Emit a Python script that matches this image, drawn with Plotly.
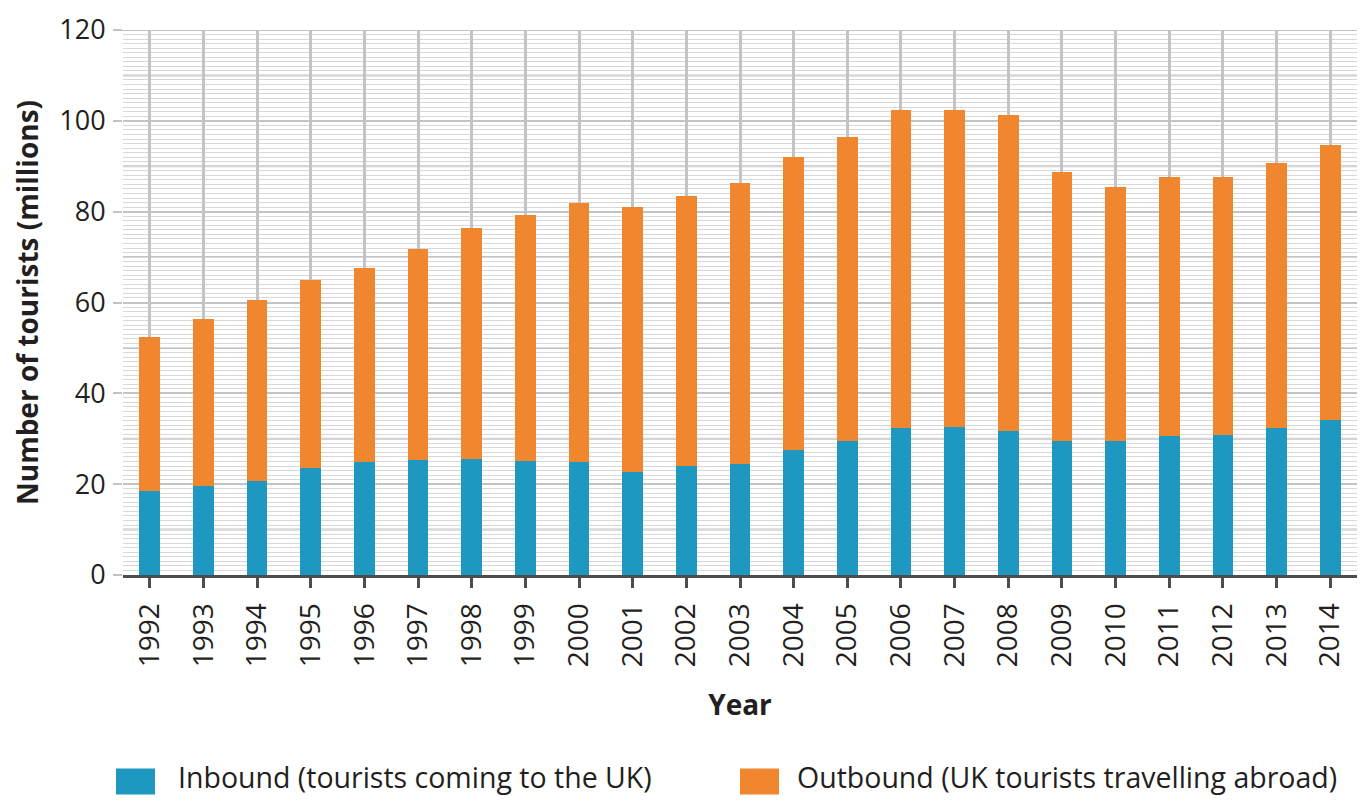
import plotly.graph_objects as go

years = [str(y) for y in range(1992, 2015)]
inbound = [18.4, 19.5, 20.8, 23.5, 24.8, 25.4, 25.6, 25.1, 24.8, 22.7, 23.9, 24.5,
           27.5, 29.6, 32.3, 32.6, 31.7, 29.5, 29.5, 30.6, 30.8, 32.3, 34.1]
total = [52.5, 56.4, 60.5, 64.9, 67.5, 71.7, 76.4, 79.2, 82.0, 81.1, 83.5, 86.3,
         92.0, 96.4, 102.3, 102.3, 101.2, 88.7, 85.5, 87.7, 87.7, 90.7, 94.6]
outbound = [round(t - i, 1) for t, i in zip(total, inbound)]

y_ticks = [0, 20, 40, 60, 80, 100, 120]
mid_lines = [10, 30, 50, 70, 90, 110, 120]

series_names = ["Inbound (tourists coming to the UK)", "Outbound (UK tourists travelling abroad)"]
BLUE = "#1E98C1"
ORANGE = "#F0862E"
FONT = "Open Sans"
TXT = "#231F20"
GRID = "#C2C3C7"

# page has an 8px body margin; size the figure to fit the window
OFF = 8
W, H = 1367 - 2 * OFF, 805 - 2 * OFF
L, R, T, B = 123 - OFF, 1357 - OFF, 26 - OFF, 575 - OFF
PW, PH = R - L, B - T

fig = go.Figure()
fig.add_trace(go.Bar(x=years, y=inbound, name=series_names[0], marker=dict(color=BLUE, line=dict(width=0))))
fig.add_trace(go.Bar(x=years, y=outbound, name=series_names[1], marker=dict(color=ORANGE, line=dict(width=0))))

shapes = []
for v in mid_lines:
    shapes.append(dict(type="line", xref="paper", yref="y", x0=0, x1=1, y0=v, y1=v,
                       line=dict(color=GRID, width=2), layer="below"))
# extension of the top gridline to the left, like the other labelled lines
shapes.append(dict(type="line", xref="paper", yref="y", x0=-9 / PW, x1=0, y0=120, y1=120,
                   line=dict(color=GRID, width=2), layer="below"))


def px_x(p):
    return (p - OFF - L) / PW


def px_y(p):
    return (B - (p - OFF)) / PH


legend_items = [(116, 155, 176, BLUE, series_names[0]), (740, 779, 795, ORANGE, series_names[1])]
annotations = []
for x0, x1, tx, col, name in legend_items:
    shapes.append(dict(type="rect", xref="paper", yref="paper", x0=px_x(x0), x1=px_x(x1),
                       y0=px_y(796), y1=px_y(770), fillcolor=col, line=dict(width=0)))
    annotations.append(dict(text=name, xref="paper", yref="paper", x=px_x(tx), y=px_y(H + OFF + 3),
                            xanchor="left", yanchor="bottom", showarrow=False,
                            font=dict(family=FONT, size=28.5, color=TXT)))

fig.update_layout(
    barmode="stack",
    bargap=0.614,
    width=W, height=H,
    margin=dict(l=L, r=W - R, t=T, b=H - B),
    plot_bgcolor="white", paper_bgcolor="white",
    showlegend=False,
    font=dict(family=FONT, color=TXT),
    shapes=shapes,
    annotations=annotations,
    xaxis=dict(
        type="category", range=[-0.5, 22.5],
        showline=True, linecolor="#4D4D4F", linewidth=3,
        ticks="outside", ticklen=10, tickwidth=3, tickcolor="#4D4D4F",
        tickangle=-90, tickfont=dict(family=FONT, size=28, color=TXT),
        ticklabelstandoff=4,
        showgrid=True, gridcolor=GRID, gridwidth=2.5,
        title=dict(text="<b>Year</b>", font=dict(family=FONT, size=28, color=TXT), standoff=30),
    ),
    yaxis=dict(
        range=[0, 120], tickvals=y_ticks,
        ticks="outside", ticklen=9, tickwidth=2, tickcolor=GRID,
        tickfont=dict(family=FONT, size=27, color=TXT),
        ticklabelstandoff=2, ticklabeloverflow="allow",
        showgrid=True, gridcolor=GRID, gridwidth=2,
        zeroline=False, showline=False,
        minor=dict(dtick=1, tick0=0, showgrid=True, gridcolor="#D8D8DA", gridwidth=1, ticks=""),
        title=dict(text="<b>Number of tourists (millions)</b>", font=dict(family=FONT, size=28, color=TXT), standoff=18),
    ),
)

fig.write_html("out.html")
